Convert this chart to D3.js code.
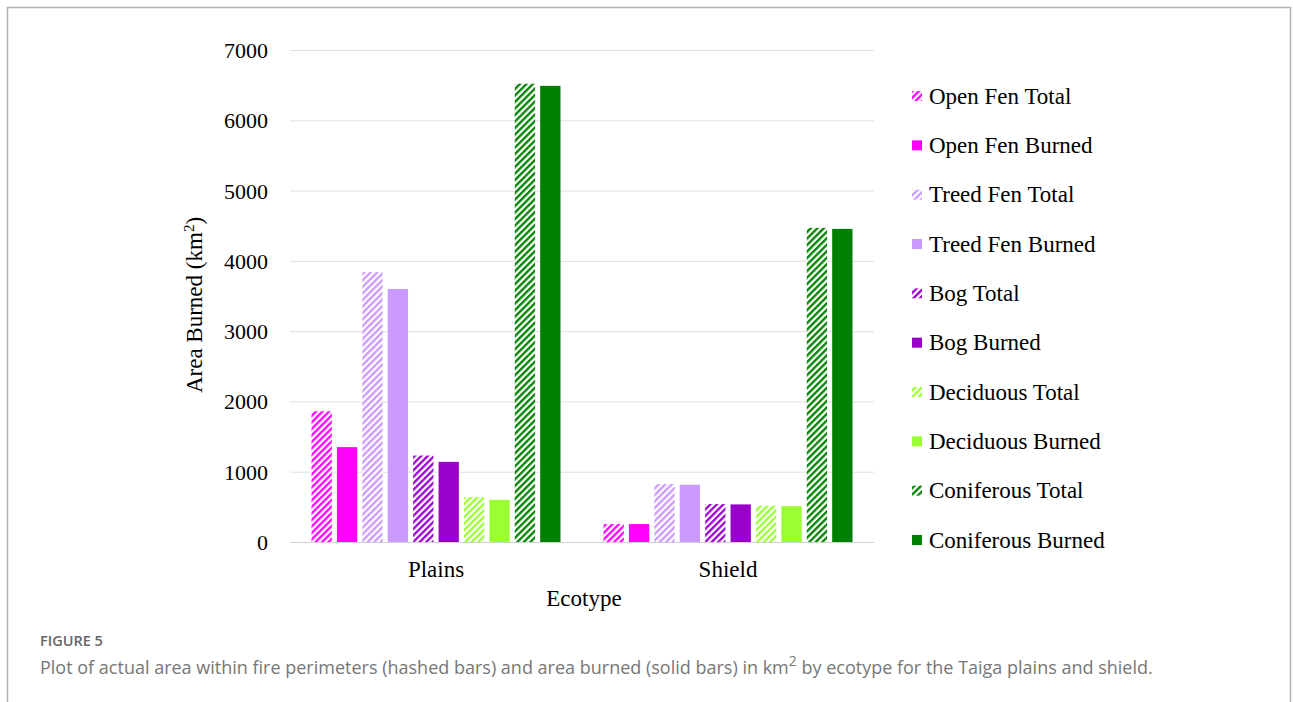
<!DOCTYPE html>
<html><head><meta charset="utf-8">
<script src="https://cdn.jsdelivr.net/npm/d3@7"></script>
<style>body{margin:0;background:#fff}svg{display:block}</style>
</head><body>
<svg id="c" width="1293" height="702"></svg>
<script>
const categories = ["Plains", "Shield"];
const seriesNames = ["Open Fen Total","Open Fen Burned","Treed Fen Total","Treed Fen Burned","Bog Total","Bog Burned","Deciduous Total","Deciduous Burned","Coniferous Total","Coniferous Burned"];
const seriesColors = ["#FF00FF","#FF00FF","#CC99FF","#CC99FF","#9900CC","#9900CC","#99FF33","#99FF33","#008000","#008000"];
const seriesHatched = [true,false,true,false,true,false,true,false,true,false];
const plainsValues = [1860,1350,3840,3600,1230,1140,640,600,6520,6490];
const shieldValues = [255,255,825,815,540,535,515,510,4470,4455];
const yTicks = [0,1000,2000,3000,4000,5000,6000,7000];

const svg = d3.select("#c");
const defs = svg.append("defs");
seriesColors.forEach((c,i)=>{
  if(!seriesHatched[i]) return;
  const p = defs.append("pattern").attr("id","h"+i).attr("patternUnits","userSpaceOnUse")
    .attr("width",4.6).attr("height",4.6).attr("patternTransform","rotate(45)");
  p.append("rect").attr("width",4.6).attr("height",4.6).attr("fill","#fff");
  p.append("line").attr("x1",1.2).attr("x2",1.2).attr("y1",0).attr("y2",4.6).attr("stroke",c).attr("stroke-width",2.3);
});

// frame
svg.append("path").attr("d","M7.5,702 V7.5 H1290.5 V702").attr("fill","none").attr("stroke","#b3b3b3").attr("stroke-width",1.5);

const y = d3.scaleLinear().domain([0,7000]).range([542,50]);
const x = d3.scaleBand().domain(categories).range([290,874]);
const xi = d3.scaleBand().domain(seriesNames).range([21.5, x.bandwidth()-21.5]).paddingInner(0.2).paddingOuter(0);

const serif = "'Liberation Serif','Times New Roman',serif";

// gridlines
svg.append("g").selectAll("line").data(yTicks).join("line")
  .attr("x1",290).attr("x2",874).attr("y1",d=>y(d)+0.5).attr("y2",d=>y(d)+0.5)
  .attr("stroke",d=>d===0?"#d0d0d0":"#e0e0e0").attr("stroke-width",1);

// y axis labels
const ya = svg.append("g").attr("transform","translate(268,0)").call(d3.axisLeft(y).tickValues(yTicks).tickSize(0).tickPadding(0).tickFormat(d3.format("d")));
ya.select(".domain").remove();
ya.selectAll("text").attr("font-family",serif).attr("font-size",22).attr("fill","#000").attr("dy","0.34em");

// x axis labels
const xa = svg.append("g").attr("transform","translate(0,561)").call(d3.axisBottom(x).tickSize(0).tickPadding(0));
xa.select(".domain").remove();
xa.selectAll("text").attr("font-family",serif).attr("font-size",23).attr("fill","#000").attr("dy","0.71em");

// bars
const data = [plainsValues, shieldValues];
categories.forEach((cat,ci)=>{
  const g = svg.append("g").attr("transform",`translate(${x(cat)},0)`);
  g.selectAll("rect").data(data[ci]).join("rect")
    .attr("x",(d,i)=>xi(seriesNames[i]))
    .attr("width",xi.bandwidth())
    .attr("y",d=>y(d))
    .attr("height",d=>y(0)-y(d))
    .attr("fill",(d,i)=>seriesHatched[i]?`url(#h${i})`:seriesColors[i]);
});

// axis titles
svg.append("text").attr("x",x.range()[0]+(x.range()[1]-x.range()[0])/2+2).attr("y",606).attr("text-anchor","middle")
  .attr("font-family",serif).attr("font-size",23).text("Ecotype");
const yt = svg.append("text").attr("transform","translate(202,305) rotate(-90)").attr("text-anchor","middle")
  .attr("font-family",serif).attr("font-size",23);
yt.append("tspan").text("Area Burned (km");
yt.append("tspan").attr("font-size",15).attr("dy",-8).text("2");
yt.append("tspan").attr("dy",8).text(")");

// legend
const leg = svg.append("g");
const ly = d3.scalePoint().domain(seriesNames).range([96,540]);
seriesNames.forEach((n,i)=>{
  leg.append("rect").attr("x",912).attr("y",ly(n)-5).attr("width",10).attr("height",10)
    .attr("fill",seriesHatched[i]?`url(#h${i})`:seriesColors[i]);
  leg.append("text").attr("x",929).attr("y",ly(n)).attr("dy","0.34em")
    .attr("font-family",serif).attr("font-size",23).attr("fill","#000").text(n);
});

// caption
const sans = "'Open Sans','Noto Sans',sans-serif";
svg.append("text").attr("x",40).attr("y",646).attr("font-family",sans).attr("font-size",14.5).attr("font-weight",600)
  .attr("fill","#666").text("FIGURE 5");
const cap = svg.append("text").attr("x",40).attr("y",674).attr("font-family",sans).attr("font-size",18).attr("fill","#777");
cap.append("tspan").text("Plot of actual area within fire perimeters (hashed bars) and area burned (solid bars) in km");
cap.append("tspan").attr("font-size",14).attr("dy",-8).text("2");
cap.append("tspan").attr("dy",8).text(" by ecotype for the Taiga plains and shield.");
</script>
</body></html>
